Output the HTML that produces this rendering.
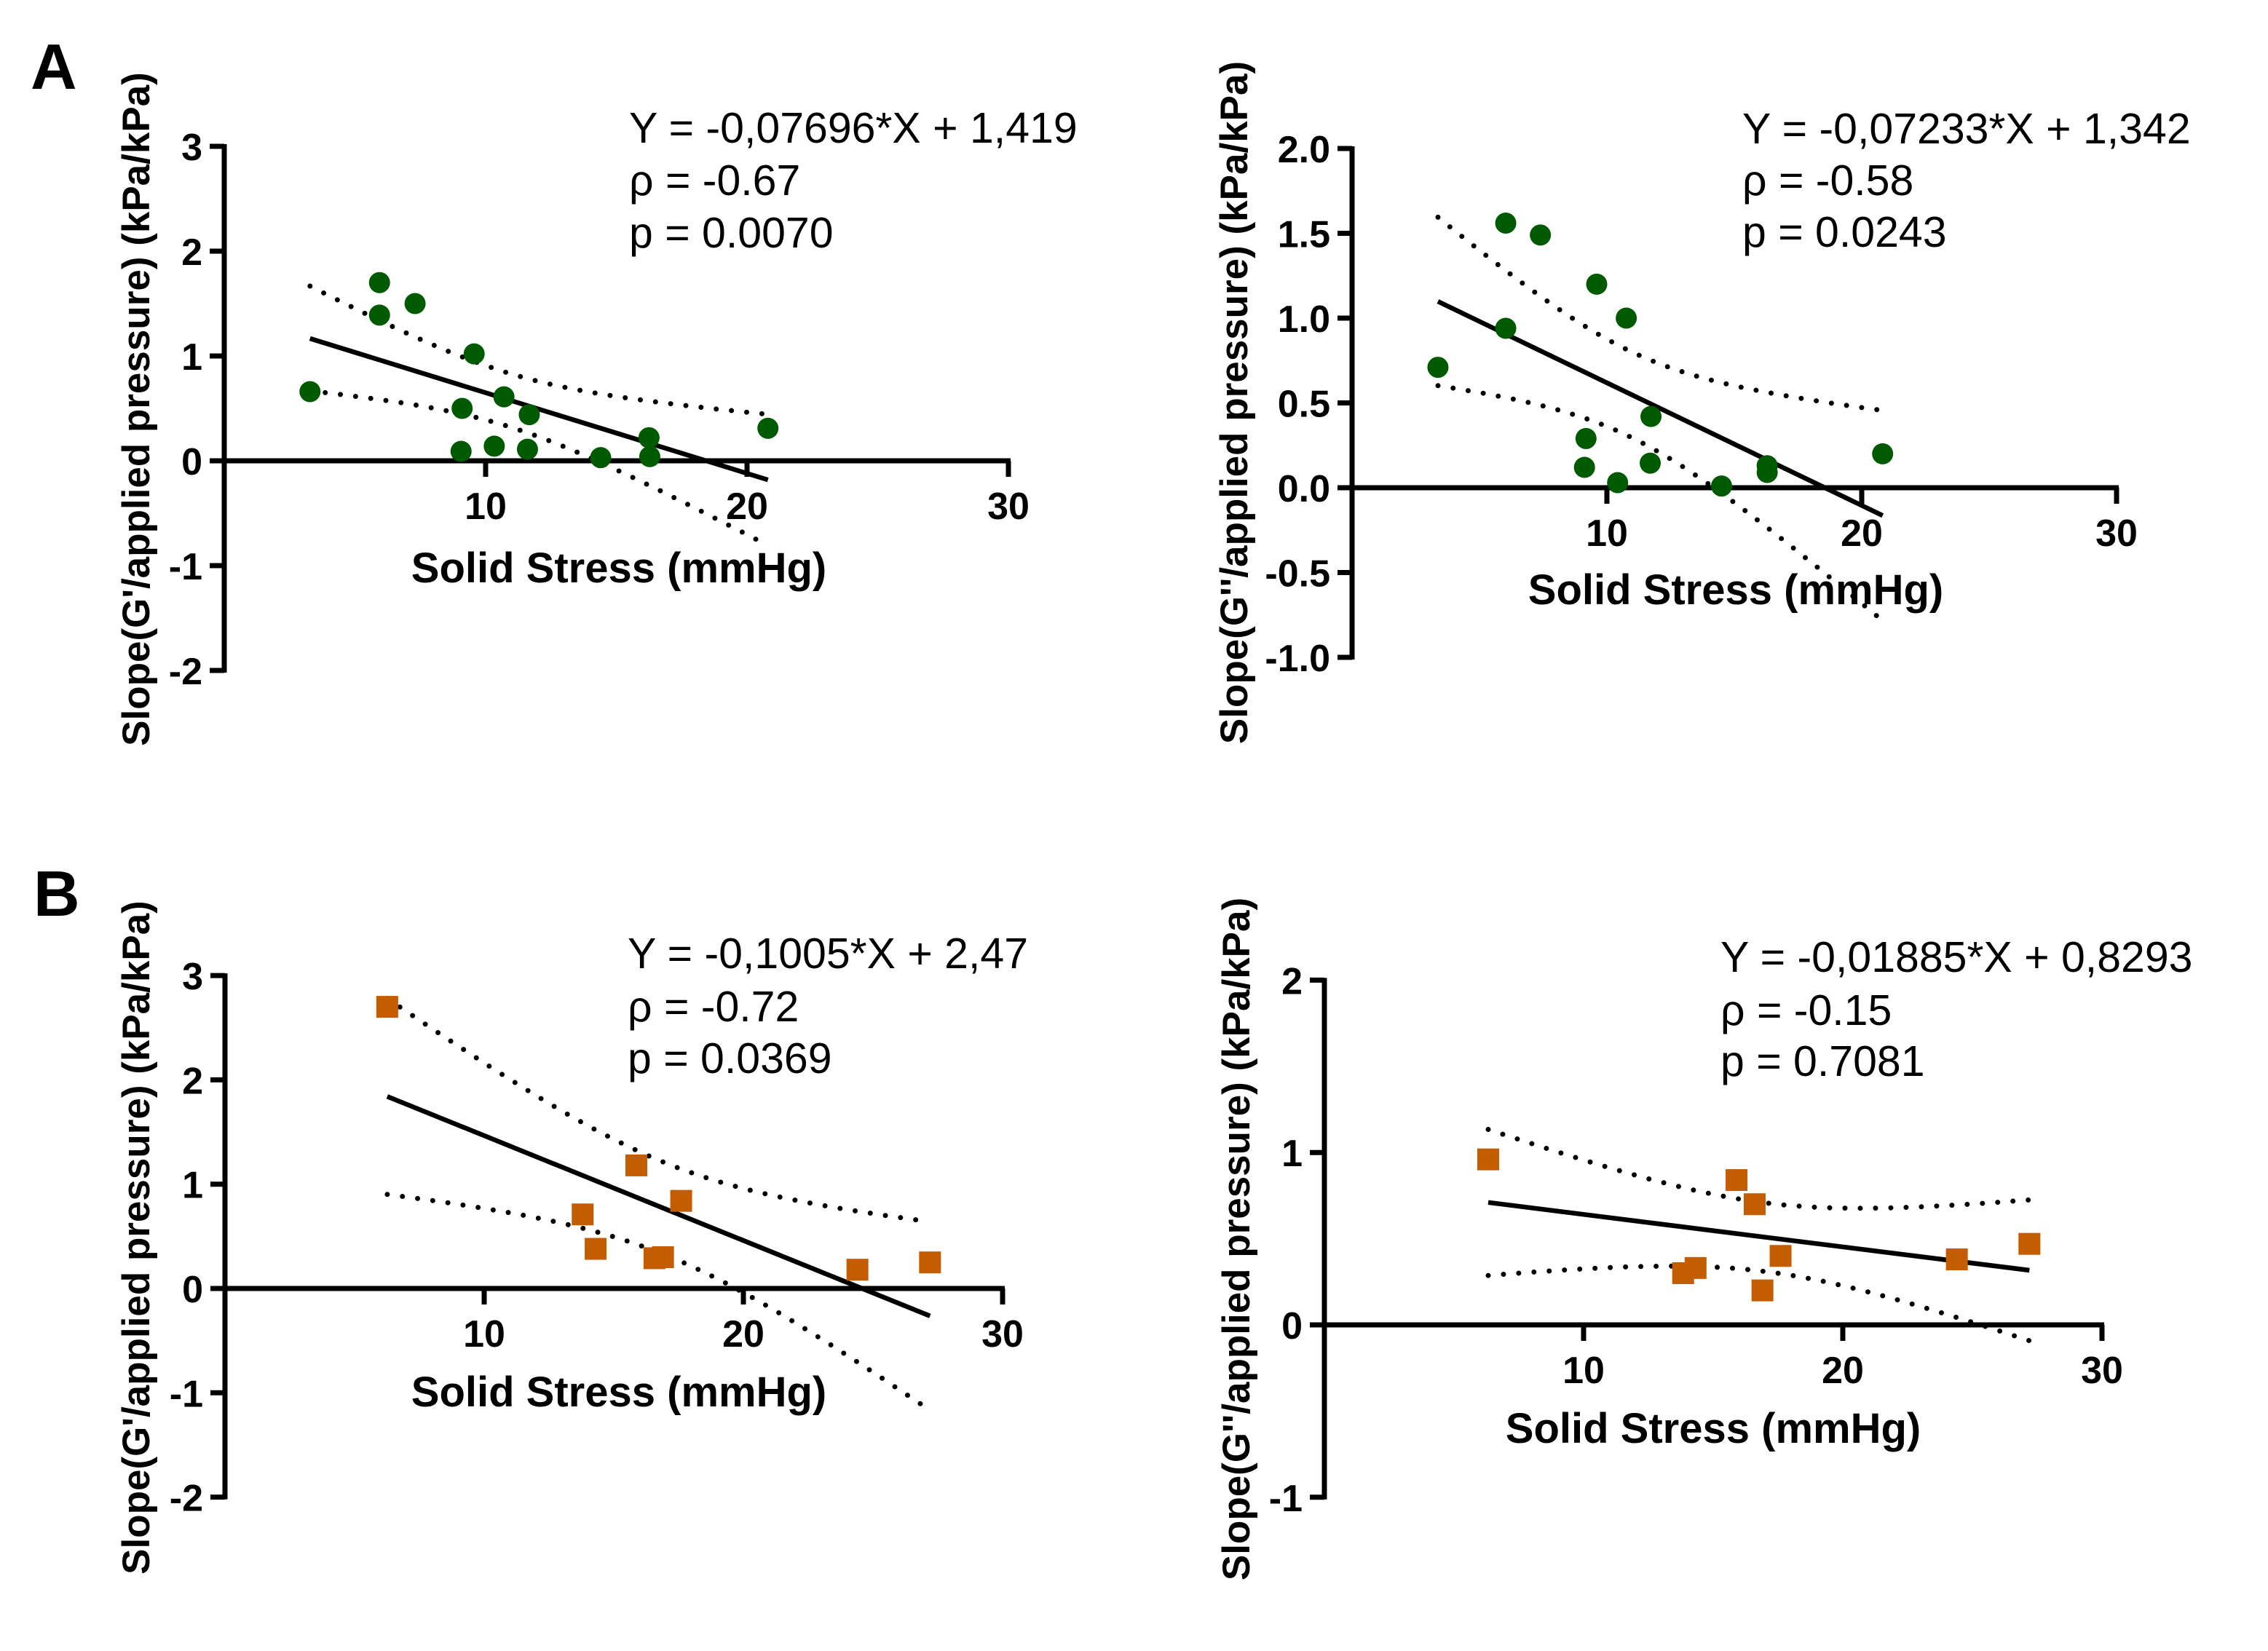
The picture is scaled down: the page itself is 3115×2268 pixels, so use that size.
<!DOCTYPE html>
<html><head><meta charset="utf-8"><style>
html,body{margin:0;padding:0;background:#fff;}
svg{display:block;font-family:"Liberation Sans",Arial,sans-serif;}
</style></head><body>
<svg id="fig" width="3115" height="2268" viewBox="0 0 3115 2268" xmlns="http://www.w3.org/2000/svg">
<rect width="3115" height="2268" fill="#fff"/>
<text x="42" y="122" font-size="88" font-weight="bold">A</text>
<text x="46" y="1258" font-size="88" font-weight="bold">B</text>
</svg>
<script>
const a1X=[3.28,5.94,5.94,7.3,9.56,9.1,10.7,11.67,9.06,10.33,11.6,14.4,16.25,16.28,20.8];
const a1Y=[0.66,1.70,1.39,1.50,1.02,0.50,0.61,0.44,0.09,0.14,0.11,0.03,0.22,0.04,0.31];
const a2X=[3.37,6.03,6.03,7.39,9.6,10.76,9.18,9.12,10.42,11.7,11.73,14.5,16.29,16.29,20.82];
const a2Y=[0.71,1.56,0.94,1.49,1.20,1.00,0.29,0.12,0.03,0.145,0.42,0.01,0.13,0.09,0.20];
const b1X=[6.26,15.87,13.8,17.6,14.3,16.57,16.9,24.4,27.2];
const b1Y=[2.70,1.18,0.71,0.84,0.38,0.29,0.30,0.18,0.25];
const b2X=[6.32,15.9,16.6,13.84,14.32,17.6,16.9,24.4,27.2];
const b2Y=[0.96,0.84,0.70,0.30,0.33,0.40,0.20,0.38,0.47];
const fitSlope=[-0.07696,-0.07233,-0.1005,-0.01885];
const fitIntercept=[1.419,1.342,2.47,0.8293];
const yTicks1=[-2,-1,0,1,2,3];
const yTicks2=[-1.0,-0.5,0.0,0.5,1.0,1.5,2.0];
const yTicks4=[-1,0,1,2];
const xTicks=[10,20,30];
const eqText=["Y = -0,07696*X + 1,419","Y = -0,07233*X + 1,342","Y = -0,1005*X + 2,47","Y = -0,01885*X + 0,8293"];
const rhoText=["ρ = -0.67","ρ = -0.58","ρ = -0.72","ρ = -0.15"];
const pText=["p = 0.0070","p = 0.0243","p = 0.0369","p = 0.7081"];

const NS="http://www.w3.org/2000/svg";
const svg=document.getElementById('fig');
function mk(tag,attrs,parent){const e=document.createElementNS(NS,tag);for(const k in attrs)e.setAttribute(k,attrs[k]);(parent||svg).appendChild(e);return e;}

const panels=[
 {xs:a1X,ys:a1Y,ax:308,x0:308,xu:35.9,y0:633,yu:144,ymin:-2,ymax:3,ticks:yTicks1,dec:0,xend:30,
  ann:[864,196,268,340],title:[850,800],ylab:[186,562],ylabText:"Slope(G'/applied pressure) (kPa/kPa)",color:"#005a00",shape:"circle",t:2.160},
 {xs:a2X,ys:a2Y,ax:1857,x0:1857,xu:35.0,y0:670,yu:233,ymin:-1,ymax:2,ticks:yTicks2,dec:1,xend:30,
  ann:[2393,197,268,339],title:[2384,830],ylab:[1694,553],ylabText:"Slope(G''/applied pressure) (kPa/kPa)",color:"#005a00",shape:"circle",t:2.160},
 {xs:b1X,ys:b1Y,ax:309,x0:309,xu:35.6,y0:1770,yu:143.3,ymin:-2,ymax:3,ticks:yTicks1,dec:0,xend:30,
  ann:[862,1330,1403,1474],title:[850,1932],ylab:[186,1700],ylabText:"Slope(G'/applied pressure) (kPa/kPa)",color:"#c45c00",shape:"square",t:2.365},
 {xs:b2X,ys:b2Y,ax:1819,x0:1819,xu:35.6,y0:1820,yu:236.8,ymin:-1,ymax:2,ticks:yTicks4,dec:0,xend:30,
  ann:[2363,1335,1408,1478],title:[2353,1982],ylab:[1697,1702],ylabText:"Slope(G''/applied pressure) (kPa/kPa)",color:"#c45c00",shape:"square",t:2.365}
];

panels.forEach((P,i)=>{
  const X=v=>P.x0+v*P.xu, Y=v=>P.y0-v*P.yu;
  const g=mk('g',{});
  
  
  const n=P.xs.length, xm=P.xs.reduce((a,b)=>a+b,0)/n;
  let sxx=0,sse=0;
  for(let k=0;k<n;k++){sxx+=(P.xs[k]-xm)**2;const r=P.ys[k]-(fitSlope[i]*P.xs[k]+fitIntercept[i]);sse+=r*r;}
  const s=Math.sqrt(sse/(n-2));
  const xmin=Math.min(...P.xs), xmax=Math.max(...P.xs);
  let up=[],lo=[];
  for(let j=0;j<=60;j++){const xv=xmin+(xmax-xmin)*j/60;const yh=fitSlope[i]*xv+fitIntercept[i];
    const h=P.t*s*Math.sqrt(1/n+(xv-xm)**2/sxx);
    up.push(X(xv).toFixed(1)+','+Y(yh+h).toFixed(1));lo.push(X(xv).toFixed(1)+','+Y(yh-h).toFixed(1));}
  const cu=mk('polyline',{points:up.join(' '),fill:'none',stroke:'#000','stroke-width':7,'stroke-linecap':'round','stroke-dasharray':'0 21'},g);
  
  
  const cl=mk('polyline',{points:lo.join(' '),fill:'none',stroke:'#000','stroke-width':7,'stroke-linecap':'round','stroke-dasharray':'0 21'},g);
  
  
  const ya=mk('line',{x1:P.ax,y1:Y(P.ymax)-3,x2:P.ax,y2:Y(P.ymin)+3,stroke:'#000','stroke-width':7},g);
  
  
  const xa=mk('line',{x1:P.ax-20,y1:P.y0,x2:X(P.xend)+3,y2:P.y0,stroke:'#000','stroke-width':7},g);
  
  
  P.ticks.forEach(t=>{
    const tl=mk('line',{x1:P.ax-20,y1:Y(t),x2:P.ax,y2:Y(t),stroke:'#000','stroke-width':7},g);
    
    
    const tx=mk('text',{x:P.ax-30,y:Y(t)+19,'font-size':52,'font-weight':'bold','text-anchor':'end'},g);
    tx.textContent=t.toFixed(P.dec);
    
    
  });
  xTicks.forEach(t=>{
    const tl=mk('line',{x1:X(t),y1:P.y0,x2:X(t),y2:P.y0+22,stroke:'#000','stroke-width':7},g);
    
    
    const tx=mk('text',{x:X(t),y:P.y0+80,'font-size':52,'font-weight':'bold','text-anchor':'middle'},g);
    tx.textContent=String(t);
    
    
  });
  const fl=mk('line',{x1:X(xmin),y1:Y(fitSlope[i]*xmin+fitIntercept[i]),x2:X(xmax),y2:Y(fitSlope[i]*xmax+fitIntercept[i]),stroke:'#000','stroke-width':6.5},g);
  
  
  for(let k=0;k<n;k++){
    let m;
    if(P.shape==='circle') m=mk('circle',{cx:X(P.xs[k]),cy:Y(P.ys[k]),r:14.5,fill:P.color},g);
    else m=mk('rect',{x:X(P.xs[k])-15,y:Y(P.ys[k])-15,width:30,height:30,fill:P.color},g);
    
    
  }
  [eqText[i],rhoText[i],pText[i]].forEach((s,j)=>{
    const tx=mk('text',{x:P.ann[0],y:P.ann[j+1],'font-size':59},g);
    tx.textContent=s;
    
    
  });
  const xt=mk('text',{x:P.title[0],y:P.title[1],'font-size':58,'font-weight':'bold','text-anchor':'middle'},g);
  xt.textContent='Solid Stress (mmHg)';
  
  
  const yt=mk('text',{x:0,y:0,'font-size':53,'font-weight':'bold','text-anchor':'middle',transform:'translate('+(P.ylab[0]+19)+','+P.ylab[1]+') rotate(-90)'},g);
  yt.textContent=P.ylabText;
  
  
});
</script>
</body></html>
